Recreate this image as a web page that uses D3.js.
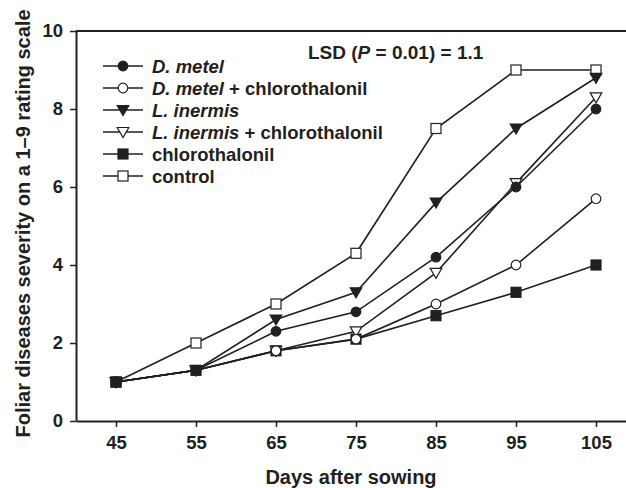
<!DOCTYPE html>
<html>
<head>
<meta charset="utf-8">
<script src="https://cdn.jsdelivr.net/npm/d3@7"></script>
<style>
  body { margin: 0; background: white; }
  svg text { font-family: "Liberation Sans", Arial, sans-serif; font-weight: bold; fill: #231f20; }
</style>
</head>
<body>
<div id="chart"></div>
<script>
// Data
const days = [45, 55, 65, 75, 85, 95, 105];
const dMetel = [1.0, 1.3, 2.3, 2.8, 4.2, 6.0, 8.0];
const dMetelChloro = [1.0, 1.3, 1.8, 2.1, 3.0, 4.0, 5.7];
const lInermis = [1.0, 1.3, 2.6, 3.3, 5.6, 7.5, 8.8];
const lInermisChloro = [1.0, 1.3, 1.8, 2.3, 3.8, 6.1, 8.3];
const chlorothalonil = [1.0, 1.3, 1.8, 2.1, 2.7, 3.3, 4.0];
const control = [1.0, 2.0, 3.0, 4.3, 7.5, 9.0, 9.0];
const yTicks = [0, 2, 4, 6, 8, 10];

const series = [
    { italic: "D. metel", rest: "", values: dMetel, shape: "circle", filled: true },
    { italic: "D. metel", rest: " + chlorothalonil", values: dMetelChloro, shape: "circle", filled: false },
    { italic: "L. inermis", rest: "", values: lInermis, shape: "triangle", filled: true },
    { italic: "L. inermis", rest: " + chlorothalonil", values: lInermisChloro, shape: "triangle", filled: false },
    { italic: "", rest: "chlorothalonil", values: chlorothalonil, shape: "square", filled: true },
    { italic: "", rest: "control", values: control, shape: "square", filled: false }
];

const width = 626, height = 488;
const margin = { top: 31, right: 0, bottom: 67, left: 76 };
const ink = "#231f20";

const svg = d3.select("#chart")
    .append("svg")
    .attr("width", width)
    .attr("height", height);

const x = d3.scaleLinear().domain([40, 108.75]).range([margin.left, width - margin.right]);
const y = d3.scaleLinear().domain([0, 10]).range([height - margin.bottom, margin.top]);

// Axes
const xAxis = svg.append("g")
    .attr("transform", `translate(0, ${y(0)})`)
    .call(d3.axisBottom(x).tickValues(days).tickSize(6).tickPadding(9).tickSizeOuter(0));
const yAxis = svg.append("g")
    .attr("transform", `translate(${x(40)}, 0)`)
    .call(d3.axisLeft(y).tickValues(yTicks).tickSize(6).tickPadding(7).tickSizeOuter(0));

[xAxis, yAxis].forEach(a => {
    a.select(".domain").attr("stroke", ink).attr("stroke-width", 2);
    a.selectAll(".tick line").attr("stroke", ink).attr("stroke-width", 1.5);
    a.selectAll(".tick text").style("font-size", "18.5px").attr("fill", ink);
});

// Top frame line
svg.append("line")
    .attr("x1", x(40)).attr("x2", width)
    .attr("y1", y(10)).attr("y2", y(10))
    .attr("stroke", ink).attr("stroke-width", 2);

// Axis titles
svg.append("text")
    .attr("x", 351).attr("y", 484)
    .attr("text-anchor", "middle")
    .style("font-size", "20px")
    .text("Days after sowing");

svg.append("text")
    .attr("transform", `translate(30, 223.5) rotate(-90)`)
    .attr("text-anchor", "middle")
    .style("font-size", "20px")
    .text("Foliar diseases severity on a 1\u20139 rating scale");

// Marker drawing helper
const drawMarker = (g, shape, filled, cx, cy) => {
    const fill = filled ? ink : "white";
    if (shape === "circle") {
        g.append("circle").attr("cx", cx).attr("cy", cy).attr("r", 4.8)
            .attr("fill", fill).attr("stroke", ink).attr("stroke-width", 1.2);
    } else if (shape === "square") {
        g.append("rect").attr("x", cx - 5).attr("y", cy - 5).attr("width", 10).attr("height", 10)
            .attr("fill", fill).attr("stroke", ink).attr("stroke-width", 1.2);
    } else {
        g.append("path")
            .attr("d", `M${cx - 5.8},${cy - 4.5}L${cx + 5.8},${cy - 4.5}L${cx},${cy + 5.5}Z`)
            .attr("fill", fill).attr("stroke", ink).attr("stroke-width", 1.2);
    }
};

const line = d3.line().x((d, i) => x(days[i])).y(d => y(d));

// Lines first, then markers on top
const lines = svg.append("g");
series.forEach(s => {
    lines.append("path")
        .datum(s.values)
        .attr("d", line)
        .attr("fill", "none")
        .attr("stroke", ink)
        .attr("stroke-width", 1.6);
});
const markers = svg.append("g");
series.slice().reverse().forEach(s => {
    s.values.forEach((v, i) => drawMarker(markers, s.shape, s.filled, x(days[i]), y(v)));
});

// Legend
const legend = svg.append("g");
series.forEach((s, i) => {
    const ly = 66 + i * 22;
    legend.append("line")
        .attr("x1", 103).attr("x2", 143).attr("y1", ly).attr("y2", ly)
        .attr("stroke", ink).attr("stroke-width", 1.6);
    drawMarker(legend, s.shape, s.filled, 123, ly);
    const t = legend.append("text")
        .attr("x", 152).attr("y", ly + 6.5)
        .style("font-size", "18.5px");
    if (s.italic) t.append("tspan").style("font-style", "italic").text(s.italic);
    if (s.rest) t.append("tspan").text(s.rest);
});

// LSD annotation
const lsd = svg.append("text")
    .attr("x", 308).attr("y", 58.5)
    .style("font-size", "19px");
lsd.append("tspan").text("LSD (");
lsd.append("tspan").style("font-style", "italic").text("P");
lsd.append("tspan").text(" = 0.01) = 1.1");
</script>
</body>
</html>
